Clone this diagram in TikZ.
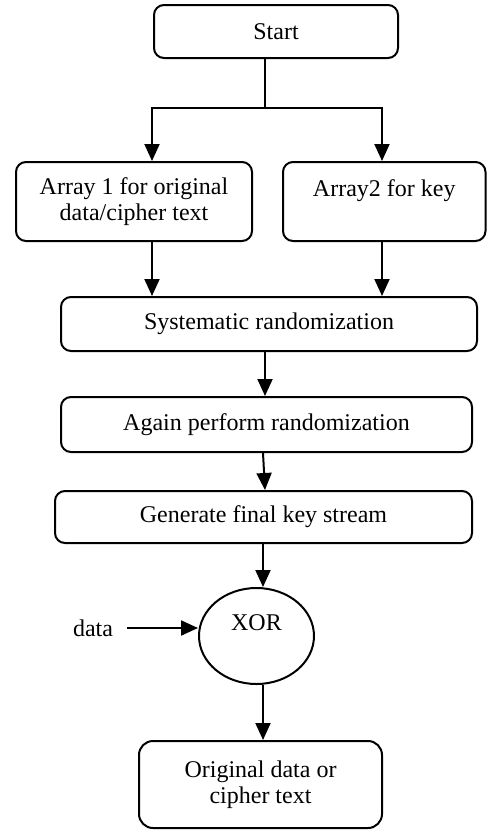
\documentclass[tikz,border=0pt]{standalone}
\usepackage{fontspec}
\setmainfont{Liberation Serif}
\usetikzlibrary{arrows.meta,shapes.geometric,calc}
\begin{document}
\begin{tikzpicture}[x=1pt,y=-1pt,
  every node/.style={font=\fontsize{24}{26}\selectfont, text=black},
  rbox/.style={draw=black, line width=2pt, rounded corners=10pt, align=center, inner sep=0pt},
  arr/.style={draw=black, line width=2pt, -{Triangle[length=17pt,width=15pt]}},
  ln/.style={draw=black, line width=2pt}]
\useasboundingbox (0,0) rectangle (487,830);
% nodes
\node[rbox, minimum width=244pt, minimum height=53pt] (start) at (276,31.5) {Start};
\node[rbox, minimum width=236pt, minimum height=79pt] (a1) at (134,201.5) {Array 1 for original\\data/cipher text};
\node[rbox, minimum width=202.5pt, minimum height=79pt] (a2) at (384.25,201.5) {Array2 for key\\\mbox{}};
\node[rbox, minimum width=416pt, minimum height=54pt] (sys) at (269,324) {Systematic randomization};
\node[rbox, minimum width=411pt, minimum height=55pt] (again) at (266.5,424.5) {Again perform randomization};
\node[rbox, minimum width=417pt, minimum height=52pt] (gen) at (263.5,517) {Generate final key stream};
\node[draw=black, line width=2pt, ellipse, minimum width=115pt, minimum height=96pt, inner sep=0pt, align=center] (xor) at (256.5,636) {XOR\\\mbox{}};
\node (data) at (93,628) {data};
\node[rbox, rounded corners=14pt, minimum width=243pt, minimum height=87pt] (fin) at (260.5,784.5) {Original data or\\cipher text};
% helper coordinates
\coordinate (split) at (265,108);
\coordinate (c1) at (152,108);
\coordinate (c2) at (382,108);
% connectors
\draw[ln] (start.south -| split) -- (split);
\draw[arr] (split) -- (c1) -- (c1 |- a1.north);
\draw[arr] (split) -- (c2) -- (c2 |- a2.north);
\draw[arr] (a1.south -| c1) -- (sys.north -| c1);
\draw[arr] (a2.south -| c2) -- (sys.north -| c2);
\draw[arr] (sys.south -| split) -- (again.north -| split);
\draw[arr] ($(again.south)+(-3.5,0)$) -- ($(gen.north)+(1.5,0)$);
\draw[arr] ($(gen.south)+(-0.5,0)$) -- ($(xor.north)+(6.5,0)$);
\draw[arr, shorten <=10pt] (data.east) -- (xor.west |- data.east);
\draw[arr] ($(xor.south)+(6.5,0)$) -- ($(fin.north)+(2.5,0)$);
\end{tikzpicture}
\end{document}
